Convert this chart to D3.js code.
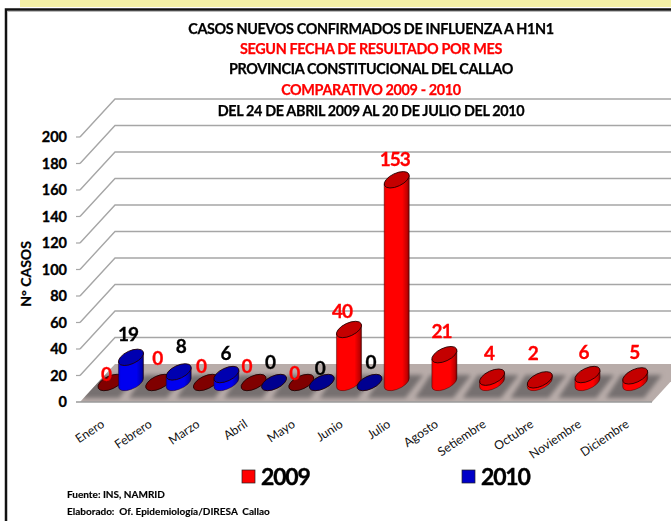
<!DOCTYPE html>
<html><head><meta charset="utf-8">
<script src="https://cdnjs.cloudflare.com/ajax/libs/d3/7.8.5/d3.min.js"></script>
<style>html,body{margin:0;padding:0;background:#fff}svg{display:block}text{font-family:Lato,"Open Sans",sans-serif}</style>
</head><body><div id="c"></div>
<script>
const categories=["Enero","Febrero","Marzo","Abril","Mayo","Junio","Julio","Agosto","Setiembre","Octubre","Noviembre","Diciembre"];
const seriesNames=["2009","2010"];
const values2009=[0,0,0,0,0,40,153,21,4,2,6,5];
const values2010=[19,8,6,0,0,0,null,null,null,null,null,null];
const yTicks=[0,20,40,60,80,100,120,140,160,180,200];
const titleLines=["CASOS NUEVOS CONFIRMADOS DE INFLUENZA A H1N1","SEGUN FECHA DE RESULTADO POR MES","PROVINCIA CONSTITUCIONAL DEL CALLAO","COMPARATIVO 2009 - 2010","DEL 24 DE ABRIL 2009 AL 20 DE JULIO DEL 2010"];
const sourceLines=["Fuente: INS, NAMRID","Elaborado:  Of. Epidemiología/DIRESA  Callao"];

// layout (separate from the data)
const W=671,H=521;
const depthX=35,depthY=38;
const axisX=80,floorRightFront=652;
const yFront=d3.scaleLinear().domain([0,200]).range([402,137]);
const barBaseY=382.5;
const heightScale=d3.scaleLinear().domain([0,200]).range([0,265]);
const x0=d3.scaleBand().domain(categories).range([100.2,100.2+47.7*12]);
const x1=d3.scalePoint().domain(seriesNames).range([10.3,30.8]);
const nudge={ "2009":[[-4.5,-8],[-1,-24],[-5,-16],[-7,-16],[-7,-9],[-7,-18.5],[-2,-20],[-3,-23],[-3,-24],[-7,-27],[-4,-22.5],[-1,-24]],
              "2010":[[-3,-23],[2,-26],[-1,-21],[-4,-20],[-2,-14],[1,-20]] };

const svg=d3.select("#c").append("svg").attr("width",W).attr("height",H);
const defs=svg.append("defs");
function grad(id,stops){const g=defs.append("linearGradient").attr("id",id).attr("x1",0).attr("x2",1).attr("y1",0).attr("y2",0);
  stops.forEach(s=>g.append("stop").attr("offset",s[0]).attr("stop-color",s[1]));}
grad("redBody",[[0,"#e80000"],[.1,"#ff0000"],[.72,"#ff0000"],[.92,"#c00000"],[1,"#700000"]]);
grad("blueBody",[[0,"#0000d0"],[.1,"#0000f0"],[.72,"#0000f0"],[.92,"#0000b0"],[1,"#000060"]]);
defs.append("filter").attr("id","blur").attr("x","-30%").attr("y","-30%").attr("width","160%").attr("height","160%").append("feGaussianBlur").attr("stdDeviation",2);
defs.append("filter").attr("id","soft").append("feGaussianBlur").attr("stdDeviation",0.35);

// page pieces
svg.append("rect").attr("x",20).attr("y",0).attr("width",W-20).attr("height",7).attr("fill","#f3f0a6");
svg.append("path").attr("d",`M6 ${H}V9.5H${W}`).attr("fill","none").attr("stroke","#111").attr("stroke-width",2.5);
svg.append("rect").attr("x",7).attr("y",11).attr("width",W-7).attr("height",1).attr("fill","#bbb");

// walls
const grid=svg.append("g");
yTicks.filter(t=>t>0).forEach(t=>{const y=yFront(t);
  grid.append("path").attr("d",`M${axisX} ${y}L${axisX+depthX} ${y-depthY}H${W}`).attr("fill","none").attr("stroke","#a6a6a6").attr("stroke-width",1.4);
  grid.append("path").attr("d",`M${axisX-4} ${y}H${axisX}`).attr("stroke","#a6a6a6").attr("stroke-width",1.2);
});
// floor
const fy=yFront(0);
const floorPath=`M${axisX} ${fy}L${axisX+depthX} ${fy-depthY}H${W}V${fy-(W-floorRightFront)*depthY/depthX}L${floorRightFront} ${fy}Z`;
svg.append("path").attr("d",floorPath).attr("fill","#b8aca9");
defs.append("clipPath").attr("id","floorClip").append("path").attr("d",floorPath);

// bar shadows
const shadow=svg.append("g").attr("clip-path","url(#floorClip)").append("g").attr("filter","url(#blur)");
categories.forEach(c=>{
  shadow.append("path").attr("d",`M${x0(c)-19} 398L${x0(c)-4} 375H${x0(c)+37}L${x0(c)+19} 398Z`).attr("fill","#767070");
});
svg.append("path").attr("d",`M${axisX-4} ${fy}H${floorRightFront}`).attr("stroke","#9a9a9a").attr("stroke-width",1.6);

// cylinders
const a=13.5,b=6.5,theta=-25,rad=25*Math.PI/180;
const hw=Math.sqrt(a*a*Math.cos(rad)**2+b*b*Math.sin(rad)**2);
const tangentDy=(a*a-b*b)*Math.sin(rad)*Math.cos(rad)/hw;
function drawBar(g,cx,h,body,top,flat){
  const yb=barBaseY,yt=barBaseY-h;
  if(h>0){
    g.append("path").attr("d",`M${cx-hw} ${yt+tangentDy}V${yb+tangentDy}A${a} ${b} ${theta} 0 0 ${cx+hw} ${yb-tangentDy}V${yt-tangentDy}Z`)
      .attr("fill",`url(#${body})`).attr("stroke","#300").attr("stroke-opacity",.55).attr("stroke-width",.8);
  }
  g.append("ellipse").attr("cx",0).attr("cy",0).attr("rx",a).attr("ry",b)
    .attr("transform",`translate(${cx},${yt}) rotate(${theta})`)
    .attr("fill",h>0?top:flat).attr("stroke","#200").attr("stroke-width",.8);
}
const barsG=svg.append("g").attr("filter","url(#soft)");
const labels=[];
categories.forEach((c,i)=>{
  [["2009",values2009[i],"redBody","#c40000","#800000","#ff0000"],["2010",values2010[i],"blueBody","#0000b0","#000090","#000000"]].forEach(([s,v,bd,tp,fl,col])=>{
    if(v===null)return;
    const cx=x0(c)+x1(s);
    drawBar(barsG,cx,heightScale(v),bd,tp,fl);
    const n=nudge[s][i];
    labels.push({x:cx+n[0],y:barBaseY-heightScale(v)+n[1],v,col});
  });
});
svg.selectAll("text.val").data(labels).join("text").attr("class","val")
  .attr("x",d=>d.x).attr("y",d=>d.y).attr("text-anchor","middle").attr("dy",".35em")
  .attr("fill",d=>d.col).attr("font-size",19).attr("font-weight",700).attr("letter-spacing",-1).attr("stroke",d=>d.col).attr("stroke-width",.3).text(d=>d.v);

// axes
const yAxis=d3.axisLeft(yFront).tickValues(yTicks).tickSize(0).tickPadding(13);
const ga=svg.append("g").attr("transform",`translate(${axisX},0)`).call(yAxis);
ga.select(".domain").remove();
ga.selectAll("text").attr("font-size",14.5).attr("font-weight",700).attr("fill","#000").attr("stroke","#000").attr("stroke-width",.35).style("font-family","Lato");
svg.append("text").attr("transform","translate(26,274) rotate(-90)").attr("text-anchor","middle").attr("dy",".35em")
  .attr("font-size",14).attr("font-weight",700).attr("stroke","#000").attr("stroke-width",.25).text("N° CASOS");
svg.selectAll("text.cat").data(categories).join("text").attr("class","cat")
  .attr("transform",c=>`translate(${x0(c)+5},426) rotate(-34)`).attr("text-anchor","end")
  .attr("font-size",12.3).attr("fill","#111").text(c=>c);

// title
const titleY=[29,49,69,90,111],titleCol=["#000","#f00","#000","#f00","#000"];
svg.selectAll("text.t").data(titleLines).join("text").attr("class","t")
  .attr("x",371).attr("y",(d,i)=>titleY[i]).attr("dy",".35em").attr("text-anchor","middle")
  .attr("font-size",14.4).attr("font-weight",700).attr("letter-spacing",-.35).attr("stroke",(d,i)=>titleCol[i]).attr("stroke-width",.25).attr("fill",(d,i)=>titleCol[i]).text(d=>d);

// legend
const legX=[242,462],legCol=["#ff0000","#0000c8"];
seriesNames.forEach((s,i)=>{
  svg.append("rect").attr("x",legX[i]).attr("y",470).attr("width",13).attr("height",13).attr("fill",legCol[i]).attr("stroke","#222").attr("stroke-width",.7);
  svg.append("text").attr("x",legX[i]+19).attr("y",477).attr("dy",".35em").attr("font-size",23).attr("font-weight",700).attr("letter-spacing",-1.2).attr("stroke","#000").attr("stroke-width",.4).text(s);
});
// source
svg.selectAll("text.s").data(sourceLines).join("text").attr("class","s")
  .attr("x",67).attr("y",(d,i)=>494+i*17).attr("dy",".35em").attr("font-size",10).attr("font-weight",700).attr("stroke","#000").attr("stroke-width",.15).style("white-space","pre").text(d=>d);
</script></body></html>
